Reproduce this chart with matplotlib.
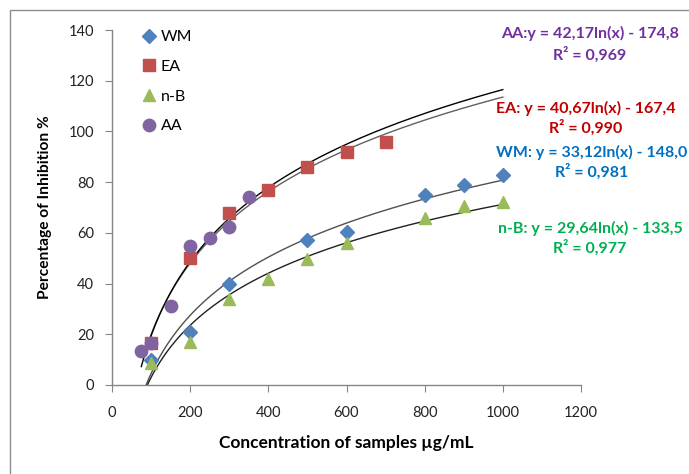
import numpy as np
import matplotlib
matplotlib.use("Agg")
import matplotlib.pyplot as plt
from matplotlib.patches import Rectangle

# ---- data ----
wm_x = [100, 200, 300, 500, 600, 800, 900, 1000]
wm_y = [10, 21, 40, 57, 60.5, 75, 79, 83]
ea_x = [100, 200, 300, 400, 500, 600, 700]
ea_y = [16.5, 50, 68, 77, 86, 92, 96]
nb_x = [100, 200, 300, 400, 500, 600, 800, 900, 1000]
nb_y = [8.7, 17, 34, 42, 49.5, 56, 66, 70.5, 72]
aa_x = [75, 100, 150, 200, 250, 300, 350]
aa_y = [13.5, 16.5, 31, 55, 58, 62.5, 74]

# log trend coefficients (a*ln(x) + b)
fit_wm = (33.12, -148.0)
fit_ea = (40.67, -167.4)
fit_nb = (29.64, -133.5)
fit_aa = (42.17, -174.8)

x_ticks = [0, 200, 400, 600, 800, 1000, 1200]
y_ticks = [0, 20, 40, 60, 80, 100, 120, 140]

W, H = 689, 474
fig = plt.figure(figsize=(W / 100, H / 100), dpi=100)
fig.patch.set_facecolor("white")
ax = fig.add_axes([112 / W, 1 - 385 / H, (581 - 112) / W, (385 - 30) / H])

# trendlines
def trend(fit, x0, x1, color):
    xs = np.linspace(x0, x1, 300)
    ys = fit[0] * np.log(xs) + fit[1]
    ax.plot(xs, ys, color=color, lw=1.0, zorder=2)

trend(fit_wm, 80, 1000, "#505050")
trend(fit_nb, 80, 1000, "#202020")
trend(fit_ea, 80, 1000, "#606060")
trend(fit_aa, 75, 1000, "#000000")

ms = 8.5
ax.plot(wm_x, wm_y, linestyle="none", marker="D", ms=ms * 0.8, color="#4F81BD", label="WM", zorder=3)
ax.plot(ea_x, ea_y, linestyle="none", marker="s", ms=ms, color="#C0504D", label="EA", zorder=3)
ax.plot(nb_x, nb_y, linestyle="none", marker="^", ms=ms * 1.1, color="#9BBB59", label="n-B", zorder=3)
ax.plot(aa_x, aa_y, linestyle="none", marker="o", ms=ms * 1.05, color="#8064A2", label="AA", zorder=4)

ax.set_xlim(0, 1200)
ax.set_ylim(0, 140)
ax.set_xticks(x_ticks)
ax.set_yticks(y_ticks)
for s in ["top", "right"]:
    ax.spines[s].set_visible(False)
for s in ["left", "bottom"]:
    ax.spines[s].set_color("#868686")
    ax.spines[s].set_linewidth(1)
ax.tick_params(axis="both", direction="out", length=5, color="#868686", labelsize=10.5,
               labelcolor="#222222")
ax.tick_params(axis="y", pad=8)
ax.tick_params(axis="x", pad=10)
for lab in ax.get_xticklabels() + ax.get_yticklabels():
    lab.set_fontfamily("Lato")

ax.set_xlabel("Concentration of samples µg/mL", fontsize=12.5, fontweight="bold",
              family="Lato", labelpad=11)
ax.set_ylabel("Percentage of Inhibition %", fontsize=11.2, fontweight="bold",
              family="Lato", labelpad=12)

leg = ax.legend(loc="upper left", bbox_to_anchor=(135 / W, 1 - 22 / H),
                bbox_transform=fig.transFigure, frameon=False, fontsize=11.5,
                handlelength=0.8, handletextpad=0.3, labelspacing=0.97, borderpad=0)
for t in leg.get_texts():
    t.set_fontfamily("Lato")

def eq(x, y, s, c):
    fig.text(x / W, 1 - y / H, s, ha="center", va="center", fontsize=11.5,
             fontweight="bold", color=c, family="Lato")

eq(590, 33, "AA:y = 42,17ln(x) - 174,8", "#7030A0")
eq(590, 55, "R² = 0,969", "#7030A0")
eq(586, 108, "EA: y = 40,67ln(x) - 167,4", "#C00000")
eq(586, 128, "R² = 0,990", "#C00000")
eq(592, 152, "WM: y = 33,12ln(x) - 148,0", "#0070C0")
eq(592, 172, "R² = 0,981", "#0070C0")
eq(590, 228, "n-B: y = 29,64ln(x) - 133,5", "#00B050")
eq(590, 248, "R² = 0,977", "#00B050")

fig.patches.append(Rectangle((9.5 / W, -0.1), 2, 1.1 - 10.5 / H, transform=fig.transFigure,
                             fill=False, ec="#8c8c8c", lw=1))

fig.savefig("out.png", dpi=100)
